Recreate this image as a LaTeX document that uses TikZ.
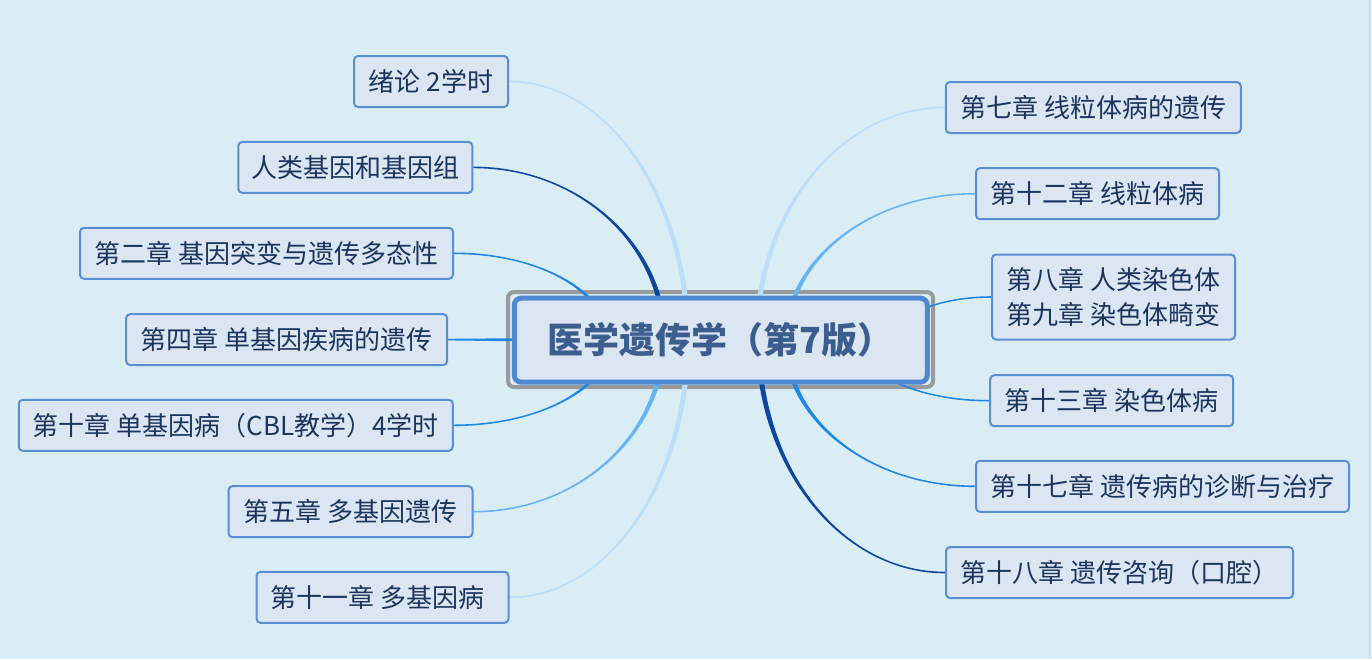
\documentclass[tikz,border=0pt]{standalone}
\usepackage{fontspec}
\setmainfont{Noto Sans CJK SC}
\usetikzlibrary{calc}
\definecolor{bgc}{HTML}{DBEDF4}
\definecolor{boxfill}{HTML}{DCE6F2}
\definecolor{boxline}{HTML}{5A8FD6}
\definecolor{boxtext}{HTML}{1B365E}
\definecolor{ctext}{HTML}{3B5E8E}
\definecolor{cline}{HTML}{5089D3}
\definecolor{hlgray}{HTML}{979B9C}
\definecolor{cA}{HTML}{BBDEFB}
\definecolor{cB}{HTML}{64B5F6}
\definecolor{cC}{HTML}{1E88E5}
\definecolor{cD}{HTML}{0D47A1}
\definecolor{edgec}{HTML}{C3D6DE}
\pgfdeclarelayer{bg}
\pgfsetlayers{bg,main}
\tikzset{
  topic/.style={draw=boxline, line width=2pt, fill=boxfill, rounded corners=4pt,
    text=boxtext, inner sep=0pt, font=\fontsize{26}{35}\selectfont,
    minimum height=51pt, align=center},
  central/.style={draw=cline, line width=5pt, fill=boxfill, rounded corners=7pt,
    text=ctext, inner sep=0pt, font=\fontsize{36}{40}\selectfont\bfseries,
    minimum width=413pt, minimum height=84pt},
  hlframe/.style={draw=hlgray, line width=4pt, rounded corners=6pt, inner sep=0pt,
    minimum width=425pt, minimum height=95pt}
}
% tapered connector: #1 end anchor, #2 start coordinate, #3 colour, #4 x-sign, #5 y-sign
\newcommand{\tconn}[5]{%
  \fill[#3] let \p1=(#1), \p2=(#2) in
   (\x1,{\y1+(#5)*0.8pt})
     .. controls ({\x1+0.5523*(\x2-\x1)},{\y1+(#5)*0.8pt}) and ({\x2+(#4)*2.6pt},{\y2+0.5523*(\y1-\y2)})
     .. ({\x2+(#4)*2.6pt},\y2)
   -- ({\x2-(#4)*2.6pt},\y2)
     .. controls ({\x2-(#4)*2.6pt},{\y2+0.5523*(\y1-\y2)}) and ({\x1+0.5523*(\x2-\x1)},{\y1-(#5)*0.8pt})
     .. (\x1,{\y1-(#5)*0.8pt}) -- cycle;}
\begin{document}
\begin{tikzpicture}[x=1pt,y=-1pt]
\useasboundingbox (0,0) rectangle (1372,659);

% central topic
\node[central] (c) at (720.75,340.15) {医学遗传学（第7版）};

% left topics
\node[topic, minimum width=154pt] (n1) at (431,81.5) {绪论 2学时};
\node[topic, minimum width=234pt] (n2) at (355.3,167.4) {人类基因和基因组};
\node[topic, minimum width=373pt] (n3) at (266.5,253.3) {第二章 基因突变与遗传多态性};
\node[topic, minimum width=321pt] (n4) at (286.7,339.6) {第四章 单基因疾病的遗传};
\node[topic, minimum width=434pt] (n5) at (235.8,425.3) {第十章 单基因病（CBL教学）4学时};
\node[topic, minimum width=244pt] (n6) at (350.5,511.7) {第五章 多基因遗传};
\node[topic, minimum width=252pt] (n7) at (382.5,597.3) {第十一章 多基因病\hspace{10pt}};

% right topics
\node[topic, minimum width=295pt] (m1) at (1093.3,107.5) {第七章 线粒体病的遗传};
\node[topic, minimum width=243pt] (m2) at (1097.5,193.7) {第十二章 线粒体病};
\node[topic, minimum width=243pt, minimum height=85pt] (m3) at (1113.5,297) {第八章 人类染色体\\第九章 染色体畸变};
\node[topic, minimum width=243pt] (m4) at (1111.7,400.7) {第十三章 染色体病};
\node[topic, minimum width=373pt] (m5) at (1162.5,486.3) {第十七章 遗传病的诊断与治疗};
\node[topic, minimum width=347pt] (m6) at (1119.5,572.5) {第十八章 遗传咨询（口腔）};

% connector roots (hidden under the central topic)
\coordinate (s1) at (687.6,340);
\coordinate (s2) at (664.3,340);
\coordinate (s3) at (608.3,340);
\coordinate (s4) at (620,340);
\coordinate (s5) at (610.4,340);
\coordinate (s6) at (663.3,340);
\coordinate (s7) at (687.7,340);
\coordinate (t1) at (756.6,340);
\coordinate (t2) at (786.3,340);
\coordinate (t3) at (893,340);
\coordinate (t4) at (859.5,340);
\coordinate (t5) at (785.8,340);
\coordinate (t6) at (758.5,340);

\begin{pgfonlayer}{bg}
  \fill[bgc] (0,0) rectangle (1372,659);
  \fill[edgec] (1368.5,0) rectangle (1370,659);
  \node[hlframe] (hl) at (720.5,339.5) {};
  % left connectors
  \tconn{n1.east}{s1}{cA}{1}{1}
  \tconn{n2.east}{s2}{cD}{1}{1}
  \tconn{n3.east}{s3}{cC}{1}{1}
  \fill[cC] ($(n4.east)+(0,-0.8)$) -- ($(s4)+(0,-2.6)$) -- ($(s4)+(0,2.6)$) -- ($(n4.east)+(0,0.8)$) -- cycle;
  \tconn{n5.east}{s5}{cC}{1}{-1}
  \tconn{n6.east}{s6}{cB}{1}{-1}
  \tconn{n7.east}{s7}{cA}{1}{-1}
  % right connectors
  \tconn{m1.west}{t1}{cA}{-1}{1}
  \tconn{m2.west}{t2}{cB}{-1}{1}
  \tconn{m3.west}{t3}{cC}{-1}{1}
  \tconn{m4.west}{t4}{cC}{-1}{-1}
  \tconn{m5.west}{t5}{cC}{-1}{-1}
  \tconn{m6.west}{t6}{cD}{-1}{-1}
\end{pgfonlayer}
\end{tikzpicture}
\end{document}
